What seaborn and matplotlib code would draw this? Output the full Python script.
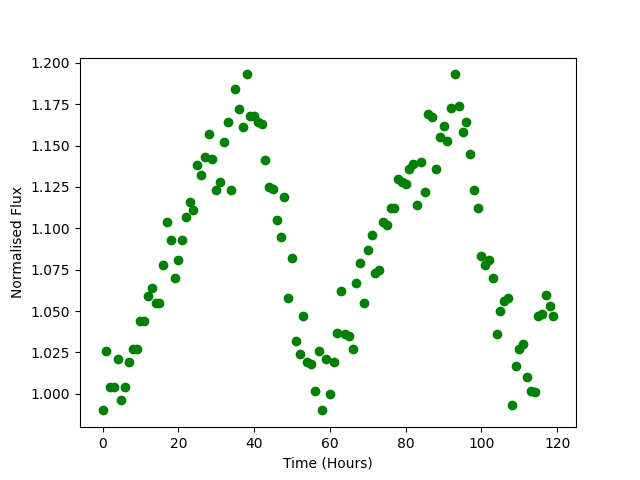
import numpy as np
import pandas as pd
import matplotlib
matplotlib.use("Agg")
import matplotlib.pyplot as plt
import seaborn as sns

# hours since start of observation
hours = list(range(120))

# normalised flux
flux = [0.990, 1.026, 1.004, 1.004, 1.021, 0.996, 1.004, 1.019, 1.027, 1.027,
        1.044, 1.044, 1.059, 1.064, 1.055, 1.055, 1.078, 1.104, 1.093, 1.070,
        1.081, 1.093, 1.107, 1.116, 1.111, 1.138, 1.132, 1.143, 1.157, 1.142,
        1.123, 1.128, 1.152, 1.164, 1.123, 1.184, 1.172, 1.161, 1.193, 1.168,
        1.168, 1.164, 1.163, 1.141, 1.125, 1.124, 1.105, 1.095, 1.119, 1.058,
        1.082, 1.032, 1.024, 1.047, 1.019, 1.018, 1.002, 1.026, 0.990, 1.021,
        1.000, 1.019, 1.037, 1.062, 1.036, 1.035, 1.027, 1.067, 1.079, 1.055,
        1.087, 1.096, 1.073, 1.075, 1.104, 1.102, 1.112, 1.112, 1.130, 1.128,
        1.127, 1.136, 1.139, 1.114, 1.140, 1.122, 1.169, 1.167, 1.136, 1.155,
        1.162, 1.153, 1.173, 1.193, 1.174, 1.158, 1.164, 1.145, 1.123, 1.112,
        1.083, 1.078, 1.081, 1.070, 1.036, 1.050, 1.056, 1.058, 0.993, 1.017,
        1.027, 1.030, 1.010, 1.002, 1.001, 1.047, 1.048, 1.060, 1.053, 1.047]

df = pd.DataFrame({"time": hours, "flux": flux})

fig, ax = plt.subplots(figsize=(6.4, 4.8), dpi=100)
sns.scatterplot(data=df, x="time", y="flux", color="green", edgecolor="green",
                s=36, linewidth=1, ax=ax)
ax.set_xlabel("Time (Hours)")
ax.set_ylabel("Normalised Flux")

fig.savefig("out.png", dpi=100)
